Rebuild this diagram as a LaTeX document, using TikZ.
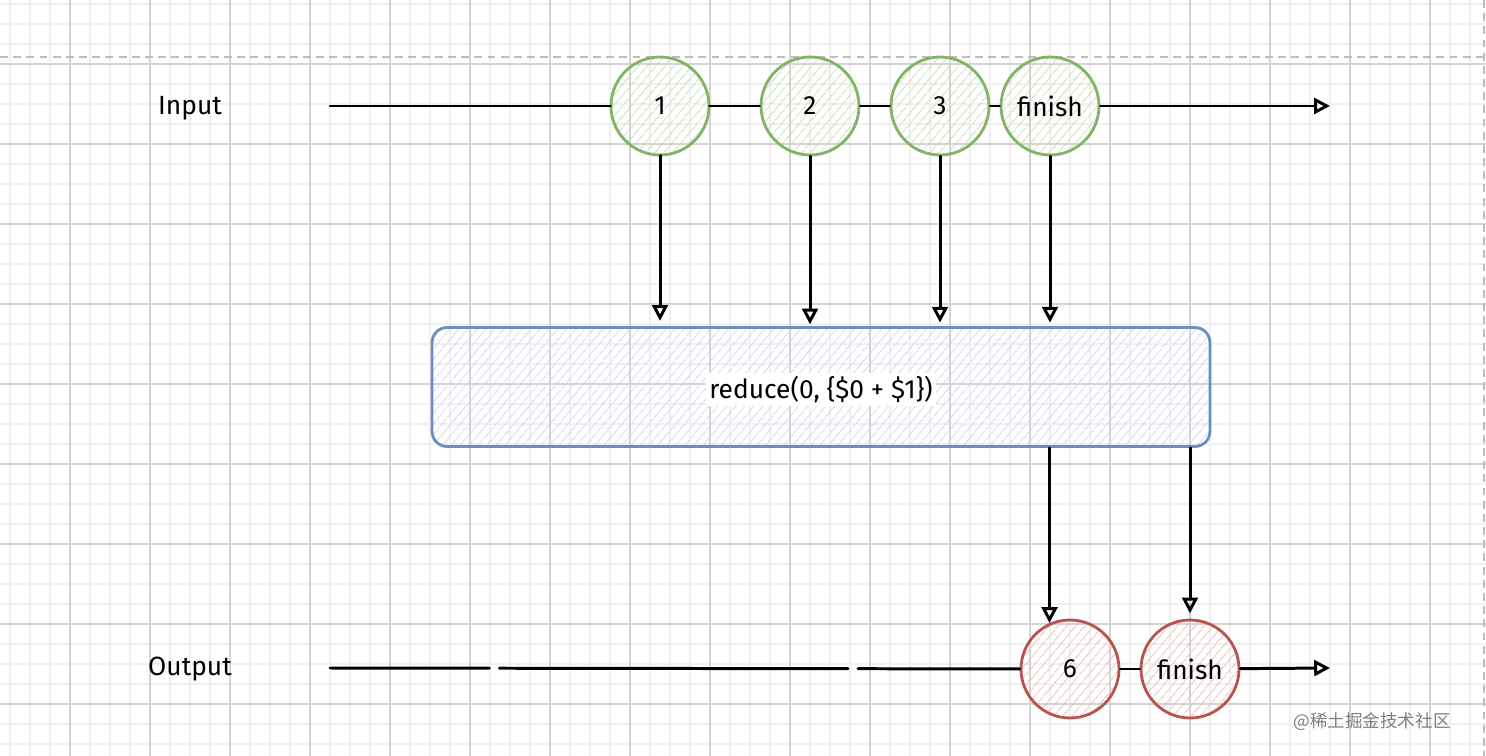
\documentclass[tikz,border=0pt]{standalone}
\usepackage{fontspec}
\setmainfont{Fira Sans}
\newfontfamily\cjkfont{Noto Sans CJK SC}
\usetikzlibrary{arrows.meta,patterns.meta}

\definecolor{gridminor}{HTML}{F0F0F0}
\definecolor{gridmajor}{HTML}{D4D4D4}
\definecolor{pagedash}{HTML}{BDBDBD}
\definecolor{ingreen}{HTML}{82B366}
\definecolor{inhatch}{HTML}{B8D2A6}
\definecolor{opblue}{HTML}{6C8EBF}
\definecolor{ophatch}{HTML}{BCCEEA}
\definecolor{outred}{HTML}{B85450}
\definecolor{outhatch}{HTML}{E9A9A6}

\begin{document}
\begin{tikzpicture}[x=0.02cm, y=-0.02cm,
        every node/.style={font=\fontsize{15}{17}\selectfont},
        hatch/.style={pattern={Lines[angle=50,distance=4pt,line width=0.5pt]}},
        inevent/.style={circle, draw=ingreen, line width=1.6pt, minimum size=1.96cm, inner sep=0pt, hatch, pattern color=inhatch},
        outevent/.style={circle, draw=outred, line width=1.6pt, minimum size=1.96cm, inner sep=0pt, hatch, pattern color=outhatch},
        opbox/.style={rectangle, rounded corners=0.3cm, draw=opblue, line width=1.6pt, minimum width=15.56cm, minimum height=2.38cm, hatch, pattern color=ophatch},
        flow/.style={line width=1.7pt, line cap=round},
        tip/.style={-{Triangle[open,length=9pt,width=9pt]}}]
    \useasboundingbox (0,0) rectangle (1486,756);
    \fill[white] (0,0) rectangle (1486,756);

    % background grid
    \foreach \gx in {10,30,...,1480} \draw[gridminor, line width=0.6pt] (\gx,0) -- (\gx,756);
    \foreach \gy in {4,24,...,750} \draw[gridminor, line width=0.6pt] (0,\gy) -- (1486,\gy);
    \foreach \gx in {70,150,...,1430} \draw[gridmajor, line width=0.6pt] (\gx,0) -- (\gx,756);
    \foreach \gy in {64,144,...,704} \draw[gridmajor, line width=0.6pt] (0,\gy) -- (1486,\gy);
    \draw[pagedash, line width=1pt, dash pattern=on 4.5pt off 3pt] (0,57) -- (1486,57);
    \draw[pagedash, line width=1pt, dash pattern=on 4.5pt off 3pt] (1484,0) -- (1484,756);

    \node (inlabel) at (190,108) {Input};
    \node (outlabel) at (190,669) {Output};

    \coordinate (in0) at (330,106);
    \coordinate (in1) at (1330,106);
    \node[inevent] (c1) at (660,106) {1};
    \node[inevent] (c2) at (810,106) {2};
    \node[inevent] (c3) at (940,106) {3};
    \node[inevent] (fin1) at (1050,106) {finish};

    \node[opbox, label={[fill=white, inner sep=2pt, yshift=-1.5pt]center:reduce(0, \{\$0 + \$1\})}] (box) at (821,387) {};

    \coordinate (out0) at (330,668);
    \coordinate (out1) at (1330,668);
    \node[outevent] (o6) at (1070,669) {6};
    \node[outevent] (fin2) at (1190,669) {finish};

    \draw[flow] (in0) -- (c1);
    \draw[flow] (c1) -- (c2);
    \draw[flow] (c2) -- (c3);
    \draw[flow] (c3) -- (fin1);
    \draw[flow, tip] (fin1) -- (in1);

    \draw[flow, tip, shorten >=3pt] (c1) -- (c1 |- box.north);
    \draw[flow, tip, shorten >=1pt] (c2) -- (c2 |- box.north);
    \draw[flow, tip, shorten >=2pt] (c3) -- (c3 |- box.north);
    \draw[flow, tip, shorten >=2pt] (fin1) -- (fin1 |- box.north);

    \draw[flow, tip] (o6.114 |- box.south) -- (o6.114);
    \draw[flow, tip, shorten >=3pt] (fin2 |- box.south) -- (fin2.north);

    \draw[flow, dash pattern=on 90.7pt off 5.7pt on 198.4pt off 5.7pt on 200pt off 1pt] (out0) -- (o6);
    \draw[flow] (o6) -- (fin2);
    \draw[flow, tip] (fin2) -- (out1);

    \node[text=gray, font=\cjkfont\fontsize{10}{12}\selectfont] (mark) at (1372,722) {@稀土掘金技术社区};
\end{tikzpicture}
\end{document}
